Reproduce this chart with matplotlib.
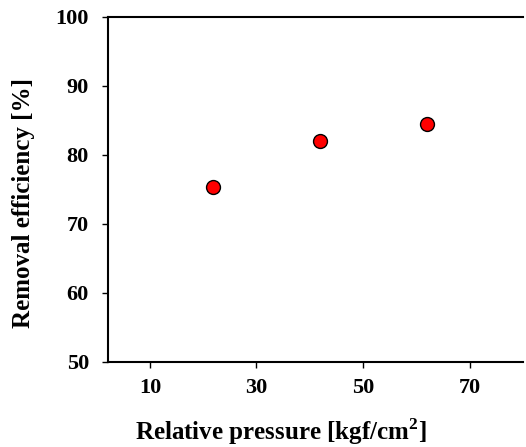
import matplotlib.pyplot as plt

# Data
pressure = [21.8, 42.0, 62.1]        # kgf/cm2
efficiency = [75.3, 81.9, 84.4]      # %
x_ticks = [10, 30, 50, 70]
y_ticks = [50, 60, 70, 80, 90, 100]

plt.rcParams['font.family'] = ['Liberation Serif', 'DejaVu Serif']
plt.rcParams['font.weight'] = 'bold'
plt.rcParams['mathtext.fontset'] = 'custom'
plt.rcParams['mathtext.rm'] = 'Liberation Serif:bold'
plt.rcParams['mathtext.bf'] = 'Liberation Serif:bold'

fig = plt.figure(figsize=(5.26, 4.47), dpi=100)
ax = fig.add_axes([0.206, 0.191, 0.788, 0.772])

ax.plot(pressure, efficiency, 'o', color='red', markeredgecolor='black',
        markeredgewidth=1.0, markersize=10)

ax.set_xlim(2.2, 80)
ax.set_ylim(50, 100)
ax.set_xticks(x_ticks)
ax.set_yticks(y_ticks)
ax.tick_params(direction='out', length=4, width=1, labelsize=16)
ax.tick_params(axis='y', pad=10)
ax.tick_params(axis='x', pad=8)
for lab in ax.get_xticklabels() + ax.get_yticklabels():
    lab.set_fontweight('bold')

ax.spines['right'].set_visible(False)
for s in ['left', 'bottom', 'top']:
    ax.spines[s].set_linewidth(1.5)

ax.set_xlabel('Relative pressure [kgf/cm$^\\mathbf{2}$]', fontsize=18,
              fontweight='bold', va='center')
ax.set_ylabel('Removal efficiency [%]', fontsize=18, fontweight='bold', va='center')
ax.xaxis.set_label_coords(0.417, -0.204)
ax.yaxis.set_label_coords(-0.205, 0.459)

fig.savefig('out.png', dpi=100)
